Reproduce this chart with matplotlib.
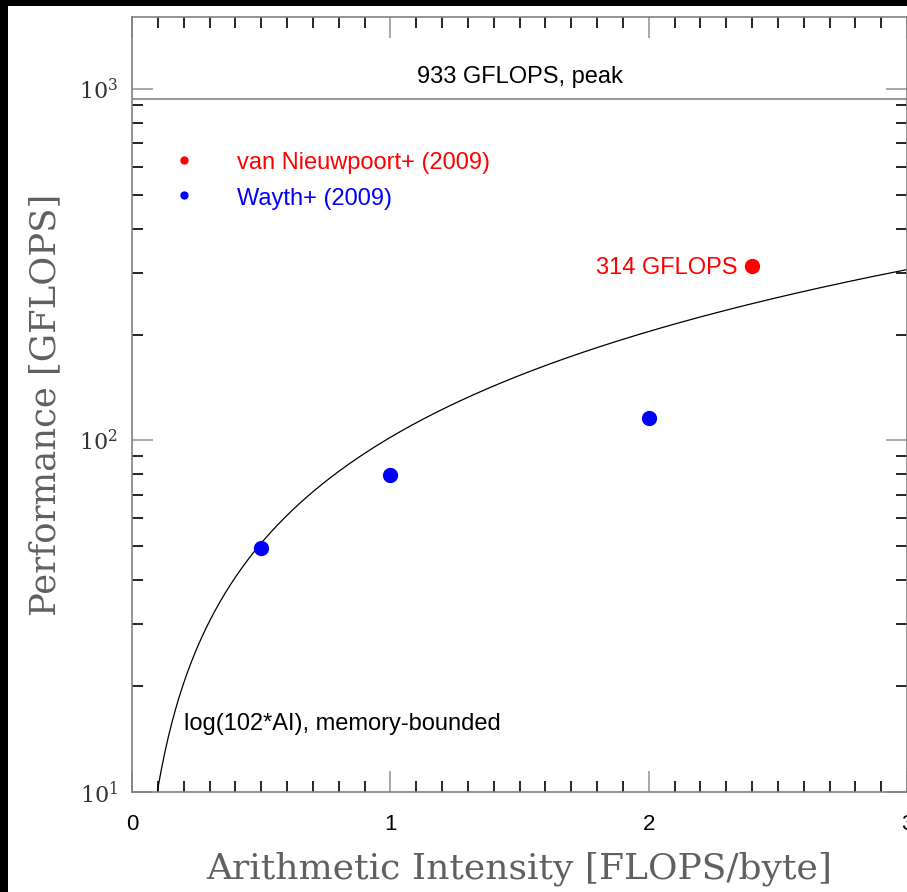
import numpy as np
import matplotlib.pyplot as plt
from matplotlib.patches import Rectangle
from matplotlib.ticker import MultipleLocator, LogLocator, NullFormatter

# data
peak = 933.0
bandwidth = 102.0
ai_wayth = [0.5, 1.0, 2.0]
perf_wayth = [49.3, 79.5, 115.5]
ai_vann = [2.4]
perf_vann = [314.0]

fig = plt.figure(figsize=(9.07, 8.92), dpi=100, facecolor='black')
fig.patches.append(Rectangle((8/907, 0), 1, 1 - 6/892, transform=fig.transFigure,
                             facecolor='white', edgecolor='none', zorder=-10))

ax = fig.add_axes([132/907, 1 - 792/892, 775/907, 775/892])
ax.set_yscale('log')
ax.set_xlim(0, 3)
ax.set_ylim(10, 1600)

# roofline curve
ai = np.linspace(0.098, 3, 400)
ax.plot(ai, bandwidth * ai, color='black', lw=0.9)
ax.axhline(peak, color='#999999', lw=1.5)

ax.plot(ai_wayth, perf_wayth, 'o', color='blue', ms=11, mec='none')
ax.plot(ai_vann, perf_vann, 'o', color='red', ms=11, mec='none')

# labels inside
sans = 'Liberation Sans'
fs = 17
ax.text(1.5, 1082, '933 GFLOPS, peak', ha='center', va='center', fontsize=fs, family=sans)
ax.text(2.345, 310, '314 GFLOPS', ha='right', va='center', fontsize=fs, family=sans, color='red')
ax.text(0.2, 15.6, 'log(102*AI), memory-bounded', ha='left', va='center', fontsize=fs, family=sans)

ax.plot([0.2], [628], 'o', color='red', ms=6, mec='none')
ax.plot([0.2], [500], 'o', color='blue', ms=6, mec='none')
ax.text(0.405, 617, 'van Nieuwpoort+ (2009)', ha='left', va='center', fontsize=fs, family=sans, color='red')
ax.text(0.405, 487, 'Wayth+ (2009)', ha='left', va='center', fontsize=fs, family=sans, color='blue')

# axes styling
for s in ax.spines.values():
    s.set_color('#808080')
    s.set_linewidth(1.2)
ax.xaxis.set_major_locator(MultipleLocator(1))
ax.xaxis.set_minor_locator(MultipleLocator(0.1))
ax.yaxis.set_major_locator(LogLocator(base=10))
ax.yaxis.set_minor_locator(LogLocator(base=10, subs=np.arange(2, 10)))
ax.yaxis.set_minor_formatter(NullFormatter())
ax.tick_params(which='both', direction='in', top=True, right=True)
ax.tick_params(which='major', length=15, width=1.2, color='#999999')
ax.tick_params(which='minor', length=8, width=1.2, color='black')
ax.tick_params(axis='x', which='major', labelsize=16, pad=16)
ax.tick_params(axis='y', which='major', labelsize=16, pad=10)
for lab in ax.get_xticklabels():
    lab.set_family(sans)
for lab in ax.get_yticklabels():
    lab.set_family('DejaVu Serif')
    lab.set_color('#333333')

ax.set_xlabel('Arithmetic Intensity [FLOPS/byte]', fontsize=26, family='DejaVu Serif',
              color='#606060', labelpad=12)
ax.set_ylabel('Performance [GFLOPS]', fontsize=25.5, family='DejaVu Serif',
              color='#606060', labelpad=12)

fig.savefig('out.png', dpi=100, facecolor=fig.get_facecolor())
